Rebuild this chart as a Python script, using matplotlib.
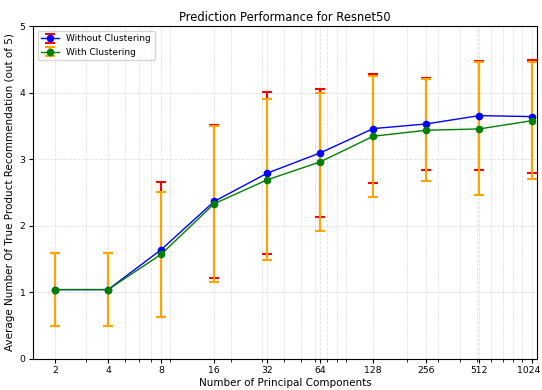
"""
prediction performance vs number of principal components
"""
import matplotlib.pyplot as plt
from matplotlib.transforms import ScaledTranslation

components = [2, 4, 8, 16, 32, 64, 128, 256, 512, 1024]
tick_labels = [str(c) for c in components]

# mean and std of true product recommendations (out of 5)
without_mean = [1.04, 1.04, 1.64, 2.365, 2.79, 3.095, 3.46, 3.53, 3.655, 3.64]
without_std = [0.55, 0.55, 1.01, 1.15, 1.22, 0.965, 0.815, 0.685, 0.82, 0.845]
with_mean = [1.04, 1.04, 1.57, 2.33, 2.69, 2.96, 3.345, 3.435, 3.455, 3.58]
with_std = [0.55, 0.55, 0.935, 1.175, 1.21, 1.04, 0.91, 0.765, 1.0, 0.88]


def main():
    fig, ax = plt.subplots(figsize=(5.42, 3.9), dpi=100)

    eb1 = ax.errorbar(components, without_mean, yerr=without_std,
                      fmt="o-", color="blue", ecolor="red", markersize=4.5,
                      linewidth=1.0, elinewidth=1.5, capsize=3.5, capthick=1.5,
                      label="Without Clustering")
    eb2 = ax.errorbar(components, with_mean, yerr=with_std,
                      fmt="o-", color="green", ecolor="orange", markersize=4.5,
                      linewidth=1.0, elinewidth=1.5, capsize=3.5, capthick=1.5,
                      label="With Clustering")
    # keep the lines and markers above the error bars
    eb1.lines[0].set_zorder(5)
    eb2.lines[0].set_zorder(5)

    ax.set_xscale("log")
    ax.set_xticks(components)
    ax.set_xticklabels(tick_labels)
    ax.set_xlim(1.5, 1090)
    ax.set_ylim(0, 5)
    ax.tick_params(labelsize=6.7, length=3, pad=2.5)
    ax.tick_params(which="minor", length=2)

    # nudge the last label so it stays inside the figure
    last = ax.get_xticklabels()[-1]
    last.set_transform(last.get_transform() + ScaledTranslation(-4 / 100, 0, fig.dpi_scale_trans))

    ax.grid(True, which="both", color="lightgray", linestyle="--", linewidth=0.6, alpha=0.7)

    ax.set_title("Prediction Performance for Resnet50", fontsize=8.3, pad=4)
    ax.set_xlabel("Number of Principal Components", fontsize=7.5, labelpad=2)
    ax.set_ylabel("Average Number Of True Product Recommendation (out of 5)", fontsize=7.5, labelpad=3)
    ax.legend(loc="upper left", fontsize=6.5)

    fig.subplots_adjust(left=0.061, right=0.991, bottom=0.08, top=0.933)
    fig.savefig("out.png")


if __name__ == "__main__":
    main()
